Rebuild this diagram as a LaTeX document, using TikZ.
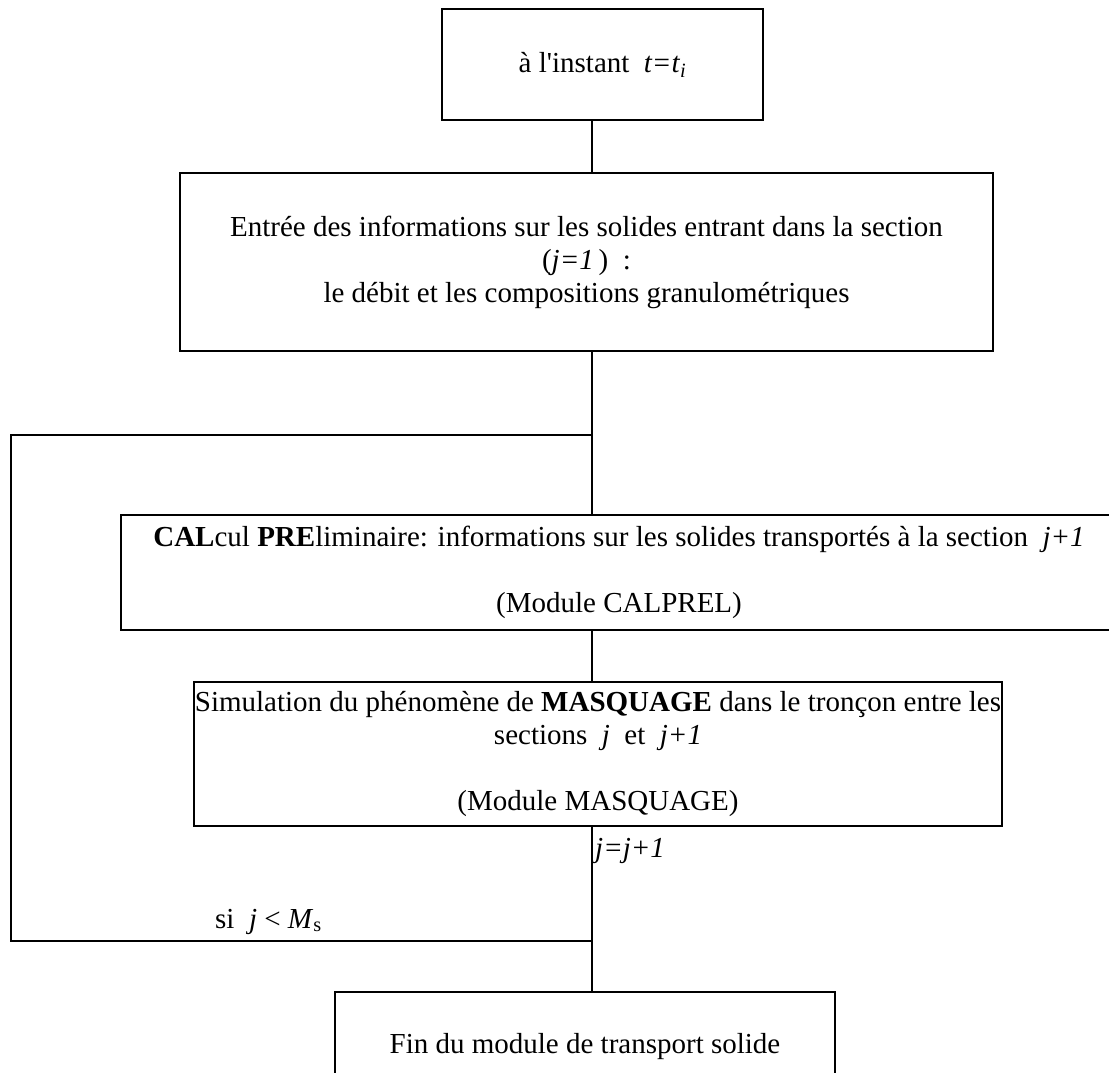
\documentclass[tikz,border=0pt]{standalone}
\usepackage{fontspec}
\setmainfont{Liberation Serif}
\begin{document}
\begin{tikzpicture}[x=1pt,y=-1pt,
  box/.style={draw=black,line width=2.6pt,rectangle,inner sep=0pt,align=center,
    font=\fontsize{29}{33}\selectfont},
  lbl/.style={inner sep=0pt,font=\fontsize{29}{33}\selectfont},
  conn/.style={draw=black,line width=2.6pt}]
\useasboundingbox (0,0) rectangle (1109,1072);
\clip (0,0) rectangle (1109,1072);
\fill[white] (0,0) rectangle (1109,1072);
\coordinate (tr) at (592,0);
\coordinate (lt) at (11,435);
\coordinate (lb) at (11,941);
\node[box,minimum width=321pt,minimum height=111pt] (b1) at (602.5,64.5)
  {à l\textquotesingle instant\ \ \textit{t=t}\textsubscript{\textit{i}}};
\node[box,minimum width=813pt,minimum height=178pt] (b2) at (586.5,262)
  {Entrée des informations sur les solides entrant dans la section\\
   (\textit{j=1}\,)\ \ :\\
   le débit et les compositions granulométriques};
\node[box,minimum width=996pt,minimum height=115pt] (b3) at (619,572.5)
  {\textbf{CAL}cul \textbf{PRE}liminaire: informations sur les solides transportés à la section\ \ \textit{j+1}\\[33pt]
   (Module CALPREL)};
\node[box,minimum width=808pt,minimum height=144pt] (b4) at (598,754)
  {Simulation du phénomène de \textbf{MASQUAGE} dans le tronçon entre les\\
   sections\ \ \textit{j}\ \ et\ \ \textit{j+1}\\[33pt]
   (Module MASQUAGE)};
\node[box,minimum width=500pt,minimum height=110pt] (b5) at (585,1047)
  {Fin du module de transport solide};
\draw[conn] (b1.south -| tr) -- (b2.north -| tr);
\draw[conn] (b2.south -| tr) -- (b3.north -| tr);
\draw[conn] (b3.south -| tr) -- (b4.north -| tr);
\draw[conn] (b4.south -| tr) -- (b5.north -| tr);
\draw[conn] (lt -| tr) -- (lt) -- (lb) -- (lb -| tr);
\node[lbl,anchor=base west] (inc) at (595,857) {\textit{j=j+1}};
\node[lbl,anchor=base west] (cond) at (215,928) {si\ \ \textit{j} < \textit{M}\textsubscript{s}};
\end{tikzpicture}
\end{document}
